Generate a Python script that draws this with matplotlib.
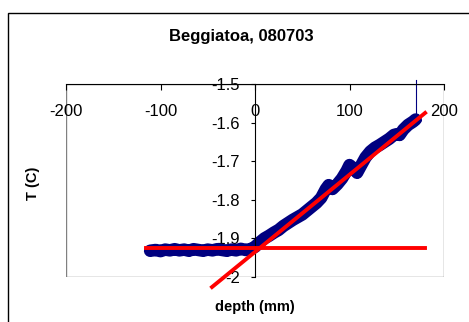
import matplotlib.pyplot as plt
from matplotlib.patches import Rectangle
from matplotlib.transforms import blended_transform_factory

plt.rcParams['font.family'] = ['Liberation Sans', 'DejaVu Sans']

# temperature profile
depth = [-111, -105, -100, -95, -90, -85, -80, -75, -70, -65, -60, -55, -50,
         -45, -40, -35, -30, -25, -20, -15, -10, -5, 0, 5, 10, 15, 20, 25, 30,
         35, 40, 45, 50, 55, 60, 65, 70, 75, 78, 82, 87, 92, 97, 100, 104, 108,
         112, 117, 122, 127, 132, 137, 142, 147, 150, 153, 157, 162, 167, 170]
temp = [-1.932, -1.930, -1.933, -1.929, -1.931, -1.928, -1.931, -1.929, -1.932,
        -1.928, -1.930, -1.932, -1.929, -1.931, -1.928, -1.930, -1.932, -1.929,
        -1.931, -1.927, -1.930, -1.928, -1.922, -1.910, -1.900, -1.893, -1.885,
        -1.878, -1.868, -1.860, -1.852, -1.845, -1.838, -1.828, -1.818, -1.808,
        -1.795, -1.772, -1.762, -1.772, -1.760, -1.745, -1.725, -1.710, -1.718,
        -1.730, -1.712, -1.690, -1.675, -1.665, -1.658, -1.650, -1.642, -1.632,
        -1.630, -1.632, -1.618, -1.606, -1.598, -1.592]
spike_x = [170, 170]
spike_y = [-1.592, -1.49]

# fitted lines
flat_x = [-115, 180]
flat_y = [-1.926, -1.926]
slope_x = [-45.5, 180]
slope_y = [-2.026, -1.575]

xticks = [-200, -100, 0, 100, 200]
yticks = [-2, -1.9, -1.8, -1.7, -1.6, -1.5]

fig = plt.figure(figsize=(4.69, 3.22), dpi=100)
fig.patches.append(Rectangle((8/469, -0.05), 1.1, 1 - 13/322 + 0.05,
                             transform=fig.transFigure, fill=False,
                             edgecolor='black', linewidth=1.0))

ax = fig.add_axes([66/469, 45/322, 378/469, 193/322])
ax.set_xlim(-200, 200)
ax.set_ylim(-2, -1.5)

ax.plot(depth, temp, color='#000080', linewidth=9, marker='D', markersize=5,
        solid_joinstyle='round', solid_capstyle='round', clip_on=False, zorder=2)
ax.plot(spike_x, spike_y, color='#000080', linewidth=0.8, clip_on=False, zorder=2)
ax.plot(flat_x, flat_y, color='#ff0000', linewidth=2.8, clip_on=False, zorder=3)
ax.plot(slope_x, slope_y, color='#ff0000', linewidth=2.8, clip_on=False, zorder=3)

# gray plot area border
ax.add_patch(Rectangle((0, 0), 1, 1, transform=ax.transAxes, fill=False,
                       edgecolor='#808080', linewidth=1.0, zorder=0))
ax.spines['right'].set_visible(False)
ax.spines['bottom'].set_visible(False)
ax.spines['top'].set_color('black')
ax.spines['left'].set_position(('data', 0))
ax.spines['left'].set_color('black')

ax.xaxis.tick_top()
ax.set_xticks(xticks)
ax.tick_params(axis='x', direction='in', length=4, labeltop=False)
trans = blended_transform_factory(ax.transData, ax.transAxes)
for t in xticks:
    ax.text(t, 0.855, f'{t}', transform=trans, ha='center', va='center',
            fontsize=12)

ax.set_yticks(yticks)
ax.set_yticklabels(['-2', '-1.9', '-1.8', '-1.7', '-1.6', '-1.5'])
ax.tick_params(axis='y', direction='out', length=3, pad=8, labelsize=12)

fig.text(241/469, 1 - 37/322, 'Beggiatoa, 080703', ha='center', va='center',
         fontsize=12, fontweight='bold')
fig.text(255/469, 1 - 307/322, 'depth (mm)', ha='center', va='center',
         fontsize=10.5, fontweight='bold')
fig.text(33/469, 1 - 183/322, 'T (C)', ha='center', va='center', rotation=90,
         fontsize=10.5, fontweight='bold')

fig.savefig('out.png', dpi=100)
